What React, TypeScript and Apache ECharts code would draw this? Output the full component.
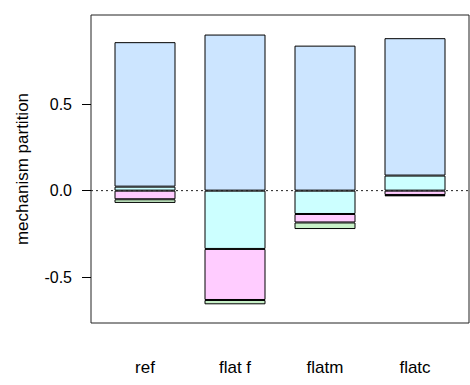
import React, { useEffect, useRef } from "react";
import * as echarts from "echarts";

const categories = ["ref", "flat f", "flatm", "flatc"];
const cyanVals = [0.023, -0.337, -0.135, 0.087];
const blueVals = [0.835, 0.902, 0.838, 0.794];
const pinkVals = [-0.05, -0.295, -0.049, -0.025];
const greenVals = [-0.021, -0.025, -0.038, -0.008];
const yTickValues = [-0.5, 0, 0.5];
const yTitle = "mechanism partition";
const Y_MIN = -0.765;
const Y_MAX = 1.015;

const FONT = "'Liberation Sans', Arial, Helvetica, sans-serif";

export default function App() {
  const ref = useRef<HTMLDivElement>(null);
  useEffect(() => {
    document.body.style.margin = "0";
    const chart = echarts.init(ref.current!, null, { renderer: "svg" });
    const mk = (name: string, vals: number[], color: string) => ({
      name,
      type: "bar",
      stack: "total",
      barWidth: 61,
      xAxisIndex: 0,
      yAxisIndex: 0,
      data: vals,
      itemStyle: { color, borderColor: "#000", borderWidth: 1 },
    });
    chart.setOption({
      animation: false,
      textStyle: { fontFamily: FONT },
      grid: [
        { left: 100, right: 10, top: 15, bottom: 62, show: false },
        {
          left: 91,
          right: 1,
          top: 15,
          bottom: 62,
          show: true,
          borderColor: "#222",
          borderWidth: 1,
          backgroundColor: "transparent",
        },
      ],
      xAxis: [
        {
          type: "category",
          gridIndex: 0,
          data: categories,
          axisLine: { show: false },
          axisTick: { show: false },
          axisLabel: {
            margin: 36,
            fontSize: 17,
            color: "#000",
            fontFamily: FONT,
          },
        },
        {
          type: "value",
          gridIndex: 1,
          min: 0,
          max: 1,
          show: false,
        },
      ],
      yAxis: [
        {
          type: "value",
          gridIndex: 0,
          min: Y_MIN,
          max: Y_MAX,
          offset: 9,
          splitLine: { show: false },
          axisLine: { show: false },
          axisTick: {
            show: true,
            customValues: yTickValues,
            length: 9,
            lineStyle: { color: "#000" },
          },
          axisLabel: {
            customValues: yTickValues,
            formatter: (v: number) => v.toFixed(1),
            margin: 19,
            fontSize: 16,
            color: "#000",
            fontFamily: FONT,
          },
          name: yTitle,
          nameLocation: "middle",
          nameGap: 60,
          nameTextStyle: { fontSize: 17, color: "#000", fontFamily: FONT },
        },
        {
          type: "value",
          gridIndex: 1,
          min: Y_MIN,
          max: Y_MAX,
          show: false,
        },
      ],
      series: [
        mk("cyan", cyanVals, "#CCFFFF"),
        mk("blue", blueVals, "#CCE5FF"),
        mk("pink", pinkVals, "#FFCCFF"),
        mk("green", greenVals, "#C8F0C8"),
        {
          name: "zero",
          type: "line",
          xAxisIndex: 1,
          yAxisIndex: 1,
          data: [
            [0, 0],
            [1, 0],
          ],
          symbol: "none",
          silent: true,
          z: 5,
          lineStyle: { type: [2, 3], color: "#222", width: 1 },
        },
      ],
    });
    return () => chart.dispose();
  }, []);
  return <div ref={ref} style={{ width: 470, height: 385 }} />;
}
